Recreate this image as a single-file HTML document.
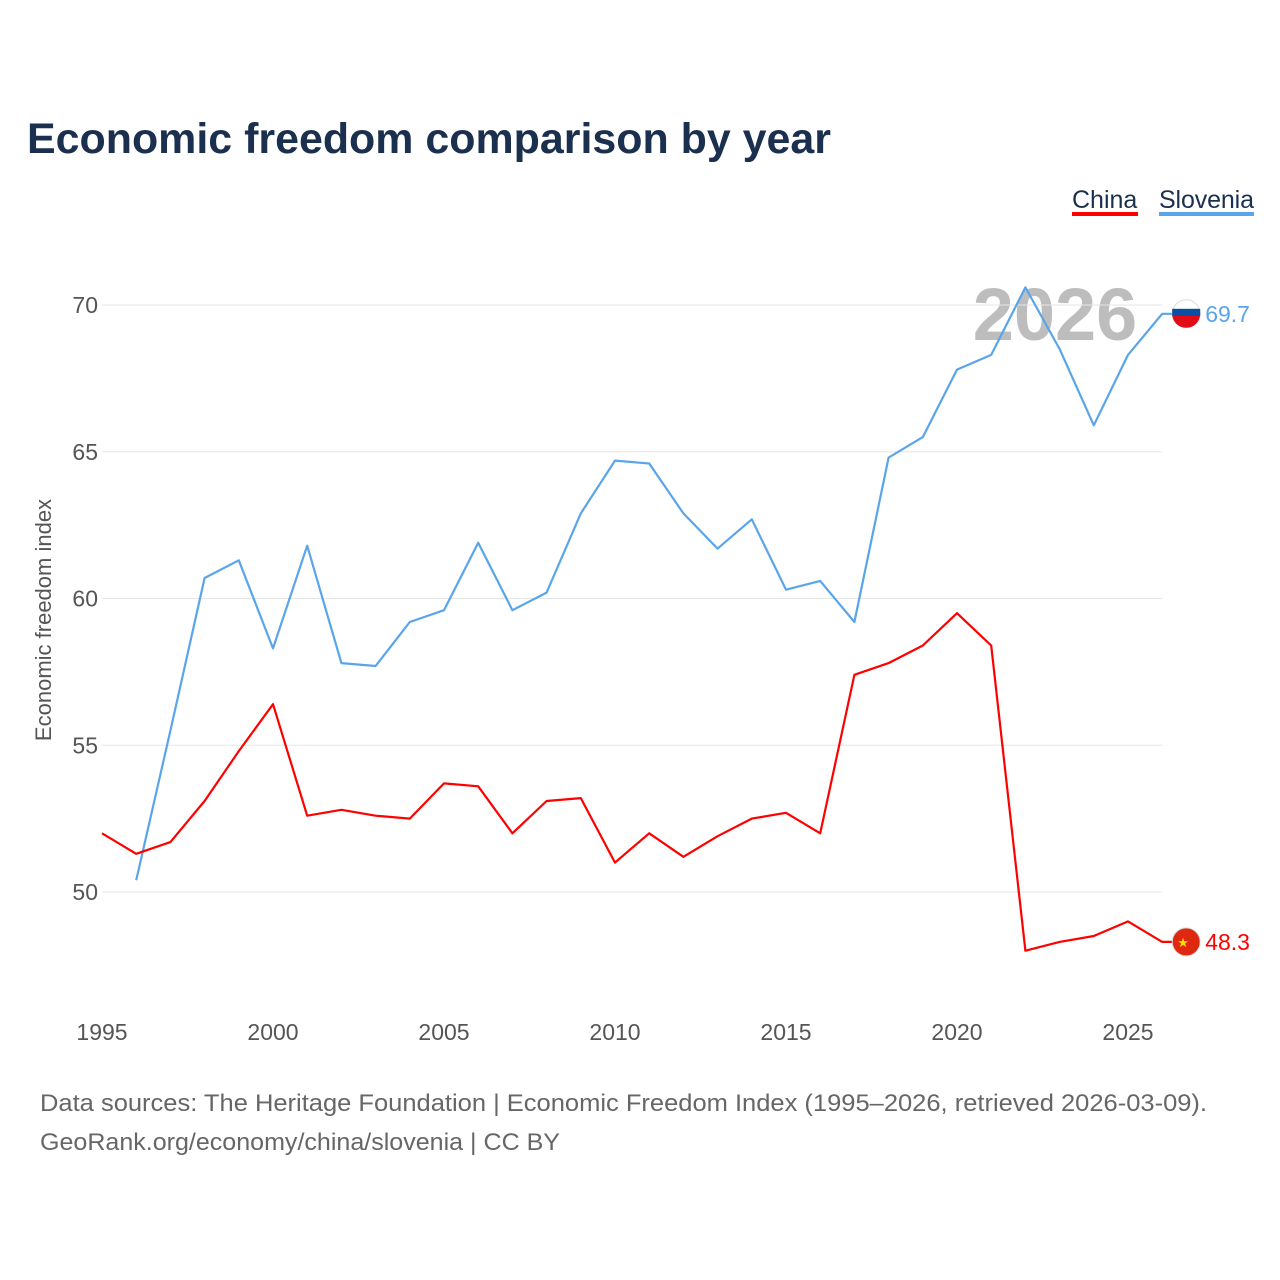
<!DOCTYPE html>
<html><head><meta charset="utf-8">
<style>
body{margin:0;background:#fff;font-family:"Liberation Sans",sans-serif;}
#wrap{position:relative;width:1280px;height:1280px;overflow:hidden;}
</style></head>
<body>
<div id="wrap">
<svg id="chart" width="1280" height="1280">
<text x="27" y="153" font-size="43" font-weight="bold" fill="#1b2f4e" textLength="804" lengthAdjust="spacingAndGlyphs">Economic freedom comparison by year</text>
<g>
<text x="1072" y="208" font-size="25" fill="#1b2f4e">China</text>
<rect x="1072" y="212" width="66" height="4" fill="#ff0000"/>
<text x="1159" y="208" font-size="25" fill="#1b2f4e" textLength="95">Slovenia</text>
<rect x="1159" y="212" width="95" height="4" fill="#5aa5ea"/>
</g>
<text x="1055" y="340" font-size="74" font-weight="bold" fill="#bdbdbd" text-anchor="middle">2026</text>
<g id="grid"></g>
<g id="lines"></g>
<text transform="translate(51,620) rotate(-90)" font-size="22" fill="#555" text-anchor="middle">Economic freedom index</text>
<text x="40" y="1111" font-size="24" fill="#666" textLength="1167" lengthAdjust="spacingAndGlyphs">Data sources: The Heritage Foundation | Economic Freedom Index (1995–2026, retrieved 2026-03-09).</text>
<text x="40" y="1150" font-size="24" fill="#666" textLength="520" lengthAdjust="spacingAndGlyphs">GeoRank.org/economy/china/slovenia | CC BY</text>
</svg>
</div>
<script>
const years=[1995,1996,1997,1998,1999,2000,2001,2002,2003,2004,2005,2006,2007,2008,2009,2010,2011,2012,2013,2014,2015,2016,2017,2018,2019,2020,2021,2022,2023,2024,2025,2026];
const china=[52.0,51.3,51.7,53.1,54.8,56.4,52.6,52.8,52.6,52.5,53.7,53.6,52.0,53.1,53.2,51.0,52.0,51.2,51.9,52.5,52.7,52.0,57.4,57.8,58.4,59.5,58.4,48.0,48.3,48.5,49.0,48.3];
const slovenia=[null,50.4,55.5,60.7,61.3,58.3,61.8,57.8,57.7,59.2,59.6,61.9,59.6,60.2,62.9,64.7,64.6,62.9,61.7,62.7,60.3,60.6,59.2,64.8,65.5,67.8,68.3,70.6,68.5,65.9,68.3,69.7];
const yTicks=[50,55,60,65,70];
const xTicks=[1995,2000,2005,2010,2015,2020,2025];
const NS="http://www.w3.org/2000/svg";
const x=v=>102+(v-1995)*(1128-102)/30;
const y=v=>892-(v-50)*(892-305)/20;
function mk(t,a,parent){const e=document.createElementNS(NS,t);for(const k in a)e.setAttribute(k,a[k]);parent.appendChild(e);return e;}
const grid=document.getElementById('grid'),lines=document.getElementById('lines');
yTicks.forEach(v=>{
 const l=mk('line',{x1:102,x2:1162,y1:y(v),y2:y(v),stroke:'#e6e6e6','stroke-width':1},grid);
 
 
 const t=mk('text',{x:98,y:y(v)+8,'font-size':23,fill:'#555','text-anchor':'end'},grid);
 t.textContent=v;
 
 
});
xTicks.forEach(v=>{
 const t=mk('text',{x:x(v),y:1040,'font-size':23,fill:'#555','text-anchor':'middle'},grid);
 t.textContent=v;
 
 
});
function series(vals,color,name){
 let d='';vals.forEach((v,i)=>{if(v==null)return;d+=(d?'L':'M')+x(years[i]).toFixed(1)+','+y(v).toFixed(1);});
 const last=vals[vals.length-1],lx=x(years[years.length-1]),ly=y(last);
 d+='L'+(lx+12).toFixed(1)+','+ly.toFixed(1);
 const p=mk('path',{d:d,fill:'none',stroke:color,'stroke-width':2.2,'stroke-linejoin':'round'},lines);
 
 
 const cx=lx+24;
 const c=mk('circle',{cx:cx,cy:ly,r:14,fill:color==='#ff0000'?'#de2910':'#fff',stroke:'#ddd'},lines);
 
 
 if(name==='slovenia'){
  const r=mk('path',{d:`M${cx-14},${ly}h28a14,14 0 0 1 -28,0z`,fill:'#e30a17'},lines);
  
  
  const b=mk('rect',{x:cx-14,y:ly-5,width:28,height:7,fill:'#0b4ea2'},lines);
  
  
 } else {
  const s=mk('text',{x:cx-9,y:ly+5,'font-size':13,fill:'#ffde00'},lines);
  s.textContent='★';
  
  
 }
 const t=mk('text',{x:lx+43,y:ly+8,'font-size':23,fill:color},lines);
 t.textContent=last.toFixed(1);
 
 
}
series(slovenia,'#5aa5ea','slovenia');
series(china,'#ff0000','china');
</script>
</body></html>
